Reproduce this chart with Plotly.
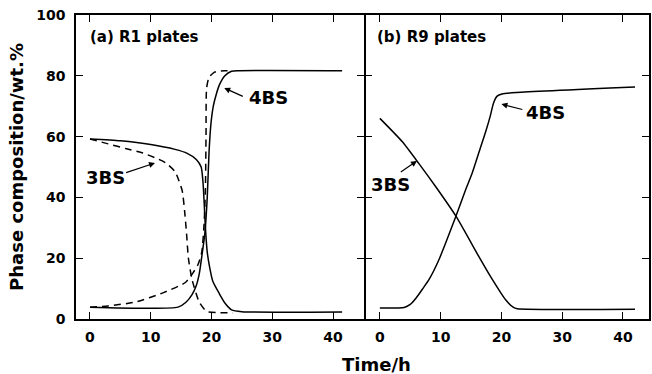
import plotly.graph_objects as go

# ---- data ----
# Panel (a) R1 plates
a_3bs_solid_t = [0, 5, 10, 14, 16, 17.5, 18.3, 18.6, 18.8, 19.0, 19.3, 19.7, 20.2, 21.3, 22.3, 23.3, 25, 41.5]
a_3bs_solid_v = [59.2, 58.6, 57.4, 55.8, 54.5, 52.5, 50, 45, 38, 30, 22, 17, 12.5, 8.3, 5, 3, 2.4, 2.3]

a_3bs_dash_t = [0, 3, 6, 8.7, 11, 12.5, 14, 14.6, 15.2, 15.6, 15.9, 16.2, 16.8, 18, 19.2, 21, 23.5]
a_3bs_dash_v = [59.2, 57.6, 56, 54.6, 52.8, 51.3, 48.5, 45.7, 42, 35, 28, 20, 13, 5.5, 2.5, 2.1, 2.0]

a_4bs_solid_t = [0, 14.5, 15.8, 16.8, 17.5, 18, 18.5, 18.9, 19.3, 19.6, 19.9, 20.3, 20.8, 21.3, 22.2, 23.3, 24.5, 41.5]
a_4bs_solid_v = [3.9, 3.9, 5.5, 8, 11, 15, 22, 28, 40, 55, 64, 70, 74, 77, 80, 81.5, 81.7, 81.7]

a_4bs_dash_t = [0, 3, 7.5, 12, 15.7, 16.9, 17.8, 18.4, 18.8, 19.0, 19.1, 19.2, 19.6, 20.5, 21.5, 23.4]
a_4bs_dash_v = [3.9, 4.3, 5.6, 8.6, 12, 15, 18, 22, 32, 43, 60, 76, 79.5, 81.2, 81.6, 81.6]

# Panel (b) R9 plates
b_3bs_t = [0, 3.7, 6.4, 9.2, 12.5, 16.3, 18.2, 20.7, 22.0, 22.6, 42]
b_3bs_v = [66, 58.3, 51.2, 43.5, 33.9, 20.5, 14, 6.3, 3.8, 3.4, 3.2]

b_4bs_t = [0, 4.0, 5.0, 6.0, 7.0, 8.1, 9.7, 12.5, 14.1, 15.2, 16.5, 17.4, 18.2, 18.7, 19.3, 20.1, 22.5, 42]
b_4bs_v = [3.6, 3.8, 4.8, 7.0, 9.8, 13, 19.4, 33.7, 42.4, 48, 56, 61.5, 67, 71, 73.3, 74, 74.5, 76.3]

x_ticks = [0, 10, 20, 30, 40]
y_ticks = [0, 20, 40, 60, 80, 100]

FONT = "DejaVu Sans"
LW = 1.5
AXLW = 1.6
line_solid = dict(color="black", width=LW, shape="spline", smoothing=0.6)
line_dash = dict(color="black", width=LW, dash="7px,5px", shape="spline", smoothing=0.6)

fig = go.Figure()
fig.add_trace(go.Scatter(x=a_3bs_solid_t, y=a_3bs_solid_v, mode="lines", line=line_solid, xaxis="x", yaxis="y"))
fig.add_trace(go.Scatter(x=a_3bs_dash_t, y=a_3bs_dash_v, mode="lines", line=line_dash, xaxis="x", yaxis="y"))
fig.add_trace(go.Scatter(x=a_4bs_solid_t, y=a_4bs_solid_v, mode="lines", line=line_solid, xaxis="x", yaxis="y"))
fig.add_trace(go.Scatter(x=a_4bs_dash_t, y=a_4bs_dash_v, mode="lines", line=line_dash, xaxis="x", yaxis="y"))
fig.add_trace(go.Scatter(x=b_3bs_t, y=b_3bs_v, mode="lines", line=line_solid, xaxis="x2", yaxis="y2"))
fig.add_trace(go.Scatter(x=b_4bs_t, y=b_4bs_v, mode="lines", line=line_solid, xaxis="x2", yaxis="y2"))

tickfont = dict(family=FONT, size=14, color="black", weight="bold")
axis_common = dict(showline=True, linecolor="black", linewidth=AXLW, mirror="ticks",
                   ticks="inside", ticklen=7, tickwidth=1.3, tickcolor="black",
                   showgrid=False, zeroline=False, tickfont=tickfont)

PW = 575.0
D = 289 / PW
D2 = D + AXLW / PW
fig.update_layout(
    width=652, height=374,
    margin=dict(l=76, r=1, t=15, b=55),
    paper_bgcolor="white", plot_bgcolor="white",
    showlegend=False,
    hovermode=False,
    xaxis=dict(domain=[0, D], range=[-2.3, 45.1], tickvals=x_ticks, anchor="y",
               ticklabelstandoff=4, **axis_common),
    xaxis2=dict(domain=[D2, 1], range=[-2.35, 44.3], tickvals=x_ticks, anchor="y2",
                ticklabelstandoff=4, **axis_common),
    yaxis=dict(range=[0, 100], tickvals=y_ticks, anchor="x", ticklabelstandoff=6,
               title=dict(text="Phase composition/wt.%", font=dict(family=FONT, size=18, color="black", weight="bold"), standoff=8),
               **axis_common),
    yaxis2=dict(range=[0, 100], tickvals=y_ticks, anchor="x2", matches="y", showticklabels=False,
                **axis_common),
)

ann_font = dict(family=FONT, size=18, color="black", weight="bold")
panel_font = dict(family=FONT, size=15, color="black", weight="bold")

# panel labels
fig.add_annotation(x=-0.3, y=92.8, xref="x", yref="y", text="(a) R1 plates", showarrow=False,
                   xanchor="left", yanchor="middle", font=panel_font)
fig.add_annotation(x=-0.8, y=92.8, xref="x2", yref="y2", text="(b) R9 plates", showarrow=False,
                   xanchor="left", yanchor="middle", font=panel_font)

# curve labels
labels = [
    ("x", "y", 29.4, 72.7, "4BS"),
    ("x", "y", 2.5, 46.7, "3BS"),
    ("x2", "y2", 27.3, 67.8, "4BS"),
    ("x2", "y2", 1.8, 44.1, "3BS"),
]
for xr, yr, lx, ly, txt in labels:
    fig.add_annotation(x=lx, y=ly, xref=xr, yref=yr, text=txt, showarrow=False,
                       xanchor="center", yanchor="middle", font=ann_font)

# arrows (tip, tail)
arrows = [
    ("x", "y", 22.1, 76.0, 25.4, 73.0),
    ("x", "y", 10.7, 51.3, 5.7, 48.0),
    ("x2", "y2", 20.0, 70.7, 23.7, 68.8),
    ("x2", "y2", 6.1, 52.0, 3.2, 48.0),
]
for xr, yr, tx, ty, sx, sy in arrows:
    fig.add_annotation(x=tx, y=ty, ax=sx, ay=sy, xref=xr, yref=yr, axref=xr, ayref=yr,
                       text="", showarrow=True, arrowhead=2, arrowsize=1, arrowwidth=1.2,
                       arrowcolor="black")

# x axis title
fig.add_annotation(x=(377.5 - 76) / PW, y=-0.15, xref="paper", yref="paper", text="Time/h",
                   showarrow=False, xanchor="center", yanchor="middle", font=ann_font)

fig.write_html("out.html", config={"displayModeBar": False},
               post_script="document.body.style.margin='0';")
